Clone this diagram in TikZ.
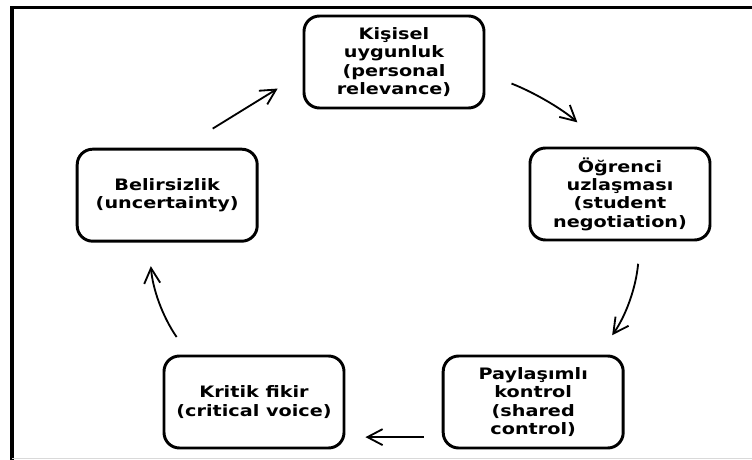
\documentclass[tikz,border=0pt]{standalone}
\usepackage{fontspec}
\newfontfamily\stagefont[FakeStretch=1.22]{DejaVu Sans}
\usetikzlibrary{arrows.meta}
\tikzset{stage/.style={rounded corners=11, draw, line width=2.1pt, minimum width=4.5cm, minimum height=2.3cm, align=center, inner sep=0.2em, font=\stagefont\bfseries\fontsize{11.2}{13}\selectfont}}
\tikzset{arr/.style={draw, -{Straight Barb[length=3.8mm,width=4mm]}, line width=1.3pt}}

\begin{document}
\begin{tikzpicture}
        \useasboundingbox (0,0) rectangle (18.8,-11.5);
        % frame
        \draw[line width=2.5pt] (0.25,-0.19) -- (18.8,-0.19);
        \draw[line width=2.5pt] (0.3,-0.19) -- (0.3,-11.5);
        \draw[black!15, line width=0.6pt] (0.3,-11.46) -- (18.8,-11.46);

        \node[stage] (kis) at (9.85,-1.55) {Kişisel\\uygunluk\\(personal\\relevance)};
        \node[stage] (ogr) at (15.5,-4.85) {Öğrenci\\uzlaşması\\(student\\negotiation)};
        \node[stage] (pay) at (13.33,-10.05) {Paylaşımlı\\kontrol\\(shared\\control)};
        \node[stage] (kri) at (6.35,-10.05) {Kritik fikir\\(critical voice)};
        \node[stage] (bel) at (4.18,-4.88) {Belirsizlik\\(uncertainty)};

        \draw[arr, shorten <=0.91cm, shorten >=0.73cm] (bel.73) -- (kis.187);
        \draw[arr, shorten <=0.7cm, shorten >=0.91cm] (kis.353) to[bend left=10] (ogr.108);
        \draw[arr, shorten <=0.56cm, shorten >=0.59cm] (ogr.293) to[bend left=15] (pay.36);
        \draw[arr, shorten <=0.45cm, shorten >=0.5cm] (pay.201) -- (kri.339);
        \draw[arr, shorten <=0.53cm, shorten >=0.59cm] (kri.144) to[bend left=15] (bel.249);
\end{tikzpicture}
\end{document}
